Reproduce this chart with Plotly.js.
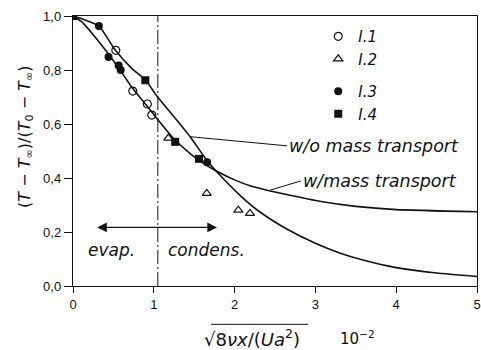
<!DOCTYPE html>
<html>
<head>
<meta charset="utf-8">
<script src="https://cdn.plot.ly/plotly-3.0.1.min.js"></script>
<style>html,body{margin:0;padding:0;background:#fff;}#chart{width:481px;height:350px;}</style>
</head>
<body>
<div id="chart"></div>
<script>
// Model curves
var woX = [0, 0.11, 0.32, 0.52, 0.73, 0.9, 1.04, 1.25, 1.45, 1.65, 1.78, 2.07, 2.31, 2.64, 3.0, 3.3, 3.6, 4.0, 4.5, 5.0];
var woY = [1.0, 0.99, 0.963, 0.875, 0.805, 0.762, 0.703, 0.627, 0.553, 0.468, 0.423, 0.335, 0.275, 0.212, 0.158, 0.122, 0.095, 0.068, 0.048, 0.035];
var wX = [0, 0.11, 0.32, 0.45, 0.56, 0.73, 0.88, 1.0, 1.24, 1.45, 1.6, 1.78, 2.0, 2.2, 2.44, 2.7, 3.05, 3.5, 4.0, 5.0];
var wY = [1.0, 0.978, 0.905, 0.855, 0.81, 0.735, 0.68, 0.635, 0.548, 0.49, 0.457, 0.425, 0.393, 0.37, 0.352, 0.335, 0.314, 0.295, 0.283, 0.275];

// Measurements
var i1X = [0.53, 0.74, 0.92, 0.975];
var i1Y = [0.873, 0.722, 0.674, 0.633];
var i2X = [1.18, 1.655, 2.046, 2.19];
var i2Y = [0.548, 0.343, 0.281, 0.269];
var i3X = [0.32, 0.44, 0.565, 0.59, 1.66];
var i3Y = [0.963, 0.848, 0.817, 0.8, 0.458];
var i4X = [0, 0.895, 1.265, 1.56];
var i4Y = [1.0, 0.762, 0.534, 0.471];

var labels = ['I.1', 'I.2', 'I.3', 'I.4'];
var condLine = 1.05;

var ink = '#111';
var data = [
  {x: woX, y: woY, mode: 'lines', line: {color: ink, width: 1.6, shape: 'spline', smoothing: 0.5}, showlegend: false, hoverinfo: 'skip'},
  {x: wX, y: wY, mode: 'lines', line: {color: ink, width: 1.6, shape: 'spline', smoothing: 0.5}, showlegend: false, hoverinfo: 'skip'},
  {x: [condLine, condLine], y: [0, 1], mode: 'lines', line: {color: ink, width: 1, dash: '14px,3px,2px,3px'}, showlegend: false, hoverinfo: 'skip'},
  {x: i1X, y: i1Y, mode: 'markers', name: labels[0], legendgroup: 'a', marker: {symbol: 'circle-open', size: 8, color: ink, line: {width: 1.2, color: ink}}},
  {x: i2X, y: i2Y, mode: 'markers', name: labels[1], legendgroup: 'a', marker: {symbol: 'triangle-up-open', size: 8, color: ink, line: {width: 1.2, color: ink}}},
  {x: i3X, y: i3Y, mode: 'markers', name: labels[2], legendgroup: 'b', marker: {symbol: 'circle', size: 8, color: ink}},
  {x: i4X, y: i4Y, mode: 'markers', name: labels[3], legendgroup: 'b', marker: {symbol: 'square', size: 8, color: ink}}
];

var itFont = {family: 'DejaVu Sans', size: 17, color: ink, style: 'italic'};
var itFontL = {family: 'DejaVu Sans', size: 17.5, color: ink, style: 'italic'};

var layout = {
  width: 481, height: 350,
  margin: {l: 73, r: 4, t: 16, b: 64},
  paper_bgcolor: '#fff', plot_bgcolor: '#fff',
  separators: ', ',
  font: {family: 'Liberation Sans', size: 13, color: ink},
  showlegend: true,
  xaxis: {
    range: [0, 5], tickvals: [0, 1, 2, 3, 4, 5], ticktext: ['0', '1', '2', '3', '4', '5'],
    showgrid: false, zeroline: false, showline: true, linecolor: ink, linewidth: 1.2, mirror: true,
    ticks: 'outside', ticklen: 6, tickcolor: ink, tickfont: {family: 'Liberation Sans', size: 13, color: ink}
  },
  yaxis: {
    range: [0, 1], tickvals: [0, 0.2, 0.4, 0.6, 0.8, 1.0], tickformat: '.1f',
    showgrid: false, zeroline: false, showline: true, linecolor: ink, linewidth: 1.2, mirror: true,
    ticks: 'outside', ticklen: 8, tickcolor: ink, tickfont: {family: 'Liberation Sans', size: 13, color: ink}
  },
  legend: {
    x: 0.607, y: 0.985, xanchor: 'left', yanchor: 'top', bgcolor: 'rgba(0,0,0,0)',
    font: {family: 'DejaVu Sans', size: 15, color: ink, style: 'italic'},
    traceorder: 'grouped', tracegroupgap: 10, itemwidth: 30
  },
  annotations: [
    {x: 0, y: 0.552, xref: 'paper', yref: 'paper', xanchor: 'center', yanchor: 'middle', xshift: -47, textangle: -90,
     text: '(<i>T</i> − <i>T</i><sub>∞</sub>)/(<i>T</i><sub>0</sub> − <i>T</i><sub>∞</sub>)', showarrow: false,
     font: {family: 'DejaVu Sans', size: 16, color: ink}},
    {x: 1.45, y: 0.553, xref: 'x', yref: 'y', ax: 2.65, ay: 0.519, axref: 'x', ayref: 'y',
     text: 'w/o mass transport', showarrow: true, arrowhead: 0, arrowwidth: 1, arrowcolor: ink, standoff: 0,
     xanchor: 'left', font: itFontL},
    {x: 2.44, y: 0.355, xref: 'x', yref: 'y', ax: 2.82, ay: 0.389, axref: 'x', ayref: 'y',
     text: 'w/mass transport', showarrow: true, arrowhead: 0, arrowwidth: 1, arrowcolor: ink, standoff: 0,
     xanchor: 'left', font: itFontL},
    {x: 0.3, y: 0.217, xref: 'x', yref: 'y', ax: 1.8, ay: 0.217, axref: 'x', ayref: 'y',
     text: '', showarrow: true, arrowhead: 2, startarrowhead: 2, arrowside: 'end+start', arrowsize: 1.6, startarrowsize: 1.6, arrowwidth: 1.2, arrowcolor: ink},
    {x: 0.48, y: 0.133, xref: 'x', yref: 'y', text: 'evap.', showarrow: false, font: itFont},
    {x: 1.65, y: 0.133, xref: 'x', yref: 'y', text: 'condens.', showarrow: false, font: itFont},
    {x: 0.443, y: -0.193, xref: 'paper', yref: 'paper', yanchor: 'middle', xanchor: 'center',
     text: '√8<i>νx</i>/(<i>Ua</i><sup>2</sup>)',
     showarrow: false, font: {family: 'DejaVu Sans', size: 18, color: ink}},
    {x: 0.705, y: -0.193, xref: 'paper', yref: 'paper', yanchor: 'middle', xanchor: 'center',
     text: '10<sup>−2</sup>', showarrow: false, font: {family: 'DejaVu Sans', size: 15, color: ink}}
  ],
  shapes: [
    {type: 'line', xref: 'paper', yref: 'paper', x0: 0.342, x1: 0.582, y0: -0.142, y1: -0.142, line: {color: ink, width: 1}}
  ]
};

Plotly.newPlot('chart', data, layout, {staticPlot: true, displayModeBar: false});
</script>
</body>
</html>
